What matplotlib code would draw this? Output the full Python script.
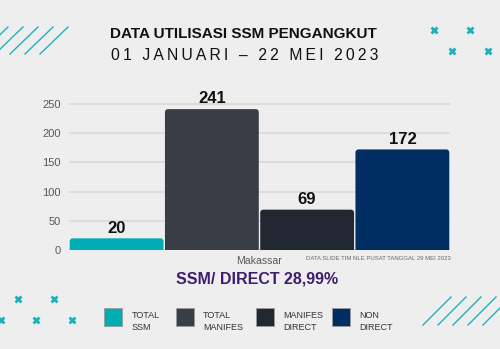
import matplotlib
matplotlib.use('Agg')
import matplotlib.pyplot as plt
from matplotlib.patches import FancyBboxPatch, Rectangle
from matplotlib.lines import Line2D

# --- Data ---
CATEGORY = 'Makassar'
SERIES = ['TOTAL\nSSM', 'TOTAL\nMANIFES', 'MANIFES\nDIRECT', 'NON\nDIRECT']
VALUES = [20, 241, 69, 172]
COLORS = ['#00adb5', '#393e46', '#222831', '#002d62']
Y_TICKS = [0, 50, 100, 150, 200, 250]

TITLE = 'DATA UTILISASI SSM PENGANGKUT'
SUBTITLE = '01 JANUARI – 22 MEI 2023'
RATIO_TEXT = 'SSM/ DIRECT 28,99%'
FOOTNOTE = 'DATA SLIDE TIM NLE PUSAT TANGGAL 29 MEI 2023'

# --- Style ---
BG = '#eeeeee'
TEAL = '#1fb1bb'
FONT = ['Liberation Sans', 'DejaVu Sans']
W, H = 500, 349


def fx(px):
    return px / W


def fy(py):
    return 1 - py / H


fig = plt.figure(figsize=(5, 3.49), dpi=100, facecolor=BG)
ax = fig.add_axes([fx(69), fy(250), 381 / W, 152 / H])
ax.set_facecolor(BG)
ax.set_xlim(-0.5, 3.5)
ax.set_ylim(0, 260)

bars = ax.bar(range(len(VALUES)), VALUES, width=0.985, color=COLORS, zorder=2)

# swap plain bars for ones with rounded tops
px_x = 381 / 4
px_y = 152 / 260
for b in bars:
    r = FancyBboxPatch((b.get_x(), -20), b.get_width(), b.get_height() + 20,
                       boxstyle=f"round,pad=0,rounding_size={3 / px_x}",
                       mutation_aspect=px_x / px_y,
                       fc=b.get_facecolor(), ec='none', zorder=2)
    ax.add_patch(r)
    b.set_visible(False)

ax.bar_label(bars, padding=2, fontsize=12, fontweight='bold',
             family=FONT, color='#111111')

ax.set_yticks(Y_TICKS)
ax.set_xticks([1.5])
ax.set_xticklabels([CATEGORY])
ax.yaxis.grid(True, color='#d9d9d9', lw=1.2, zorder=0)
ax.set_axisbelow(True)
for s in ax.spines.values():
    s.set_visible(False)
ax.tick_params(axis='y', length=0, pad=6, labelsize=8, labelcolor='#595959')
ax.tick_params(axis='x', length=0, pad=4, labelsize=7.6, labelcolor='#595959')
for lbl in ax.get_xticklabels() + ax.get_yticklabels():
    lbl.set_family(FONT)

# --- Texts ---
fig.text(fx(243.5), fy(34), TITLE, ha='center', va='center', fontsize=11,
         fontweight='bold', family=FONT, color='#111111')
fig.text(fx(244.5), fy(55), '\u2009'.join(SUBTITLE), ha='center', va='center',
         fontsize=11.3, family=FONT, color='#111111')
fig.text(fx(257.5), fy(279), RATIO_TEXT, ha='center', va='center', fontsize=11.5,
         fontweight='bold', family=FONT, color='#3d1d6e')
fig.text(fx(451), fy(258), FOOTNOTE, ha='right', va='center', fontsize=4.3,
         family=FONT, color='#6a6a6a')

# --- Legend ---
sq_x = [104, 176, 256, 332]
txt_x = [132, 203, 283, 359]
for name, col, sx, tx in zip(SERIES, COLORS, sq_x, txt_x):
    fig.add_artist(Rectangle((fx(sx), fy(326)), 18 / W, 18 / H,
                             transform=fig.transFigure, fc=col,
                             ec='#9a9a9a', lw=0.6))
    fig.text(fx(tx), fy(321.5), name, ha='left', va='center', fontsize=6.5,
             family=FONT, color='#333333', linespacing=1.5)

# --- Decorations ---
for bx in [-20, -5, 10, 25, 40]:
    fig.add_artist(Line2D([fx(bx), fx(bx + 28)], [fy(54), fy(27)],
                          transform=fig.transFigure, color=TEAL, lw=1))
for bx in [423, 438, 453, 468, 483]:
    fig.add_artist(Line2D([fx(bx), fx(bx + 28)], [fy(325), fy(297)],
                          transform=fig.transFigure, color=TEAL, lw=1))

marks = [(434, 30), (470, 30), (452, 51), (488, 51),
         (18, 299), (54, 299), (1, 320), (36, 320), (72, 320)]
for mx, my in marks:
    fig.add_artist(Line2D([fx(mx)], [fy(my)], transform=fig.transFigure,
                          marker='x', ms=5, mew=2, color=TEAL, ls='none'))

fig.savefig('out.png', dpi=100, facecolor=BG)
